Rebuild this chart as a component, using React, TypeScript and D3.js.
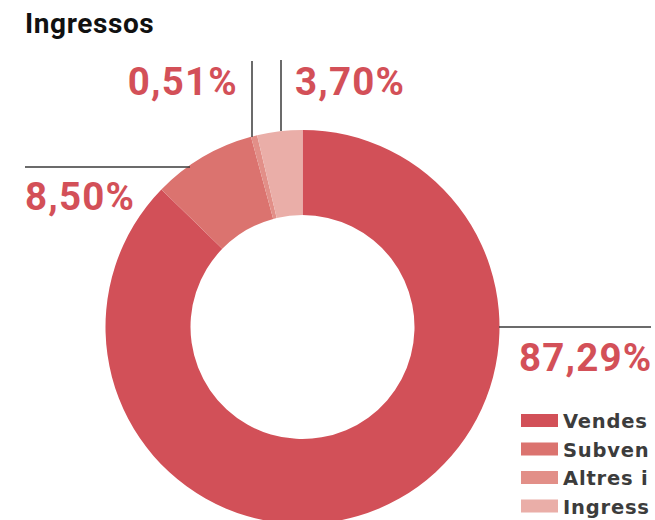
import React from "react";
import * as d3 from "d3";

const categories = ["Vendes", "Subven", "Altres i", "Ingress"];
const values = [87.29, 8.5, 0.51, 3.7];
const labels = ["87,29%", "8,50%", "0,51%", "3,70%"];
const colors = ["#d25058", "#db736f", "#e28f88", "#eaaea8"];

const W = 655;
const H = 520;
const cx = 302.5;
const cy = 327;
const rOuter = 197;
const rInner = 112;

export default function App() {
  const pie = d3.pie<number>().sort(null).value((d) => d)(values);
  const arc = d3.arc<d3.PieArcDatum<number>>().innerRadius(rInner).outerRadius(rOuter);
  const labelStyle: React.CSSProperties = {
    fontFamily: "Roboto, 'Noto Sans', sans-serif",
    fontWeight: 700,
    fontSize: 38.5,
    letterSpacing: 1.2,
    fill: "#d35058",
  };
  const lineColor = "#3a3a3a";
  return (
    <svg
      width={W}
      height={H}
      style={{ position: "absolute", left: 0, top: 0, overflow: "hidden", background: "#fff" }}
    >
      <text x={25} y={33} style={{ fontFamily: "Roboto, sans-serif", fontWeight: 700, fontSize: 28, letterSpacing: 0.6, fill: "#111" }}>
        Ingressos
      </text>
      <g transform={`translate(${cx},${cy})`}>
        {pie.map((p, i) => (
          <path key={i} d={arc(p) || ""} fill={colors[i]} />
        ))}
      </g>
      {/* leader lines */}
      <line x1={499} x2={651} y1={327} y2={327} stroke={lineColor} strokeWidth={1.5} />
      <line x1={25} x2={190} y1={167} y2={167} stroke={lineColor} strokeWidth={1.5} />
      <line x1={252} x2={252} y1={61} y2={137} stroke={lineColor} strokeWidth={1.5} />
      <line x1={281} x2={281} y1={60} y2={131} stroke={lineColor} strokeWidth={1.5} />
      <text x={519} y={371} style={labelStyle}>{labels[0]}</text>
      <text x={25} y={210} style={labelStyle}>{labels[1]}</text>
      <text x={238} y={95} textAnchor="end" style={labelStyle}>{labels[2]}</text>
      <text x={295} y={95} style={labelStyle}>{labels[3]}</text>
      {/* legend */}
      {categories.map((c, i) => (
        <g key={c} transform={`translate(521,${414 + i * 28.5})`}>
          <rect x={0} y={0} width={37} height={13} fill={colors[i]} />
          <text
            x={42}
            y={14}
            style={{ fontFamily: "'DejaVu Sans', sans-serif", fontWeight: 700, fontSize: 19.5, letterSpacing: 0.8, fill: "#3c3c3c" }}
          >
            {c}
          </text>
        </g>
      ))}
    </svg>
  );
}
